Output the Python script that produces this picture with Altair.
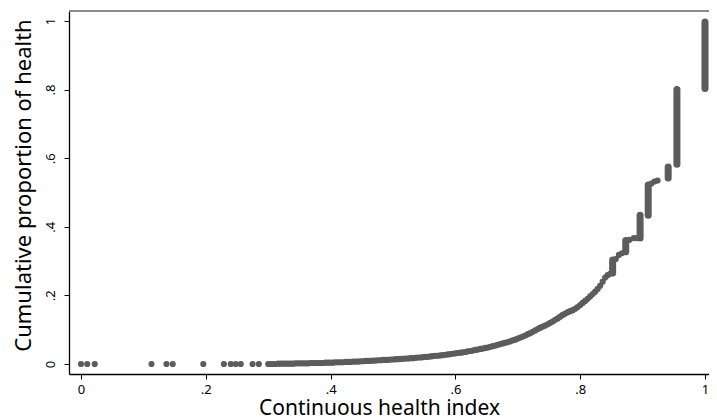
import altair as alt
import pandas as pd

# sparse points lying on y = 0
sparse_x = [0.0, 0.01, 0.022, 0.113, 0.137, 0.147, 0.196, 0.229, 0.240, 0.248, 0.256, 0.275, 0.285]
sparse_y = [0.0] * len(sparse_x)

# dense part of the curve
curve_x = [0.300, 0.304, 0.308, 0.312, 0.316, 0.320, 0.324, 0.328, 0.332, 0.336, 0.340, 0.344,
           0.348, 0.352, 0.356, 0.360, 0.364, 0.368, 0.372, 0.376, 0.380, 0.384, 0.388, 0.392,
           0.396, 0.400, 0.404, 0.408, 0.412, 0.416, 0.420, 0.424, 0.428, 0.432, 0.436, 0.440,
           0.444, 0.448, 0.452, 0.456, 0.460, 0.464, 0.468, 0.472, 0.476, 0.480, 0.484, 0.488,
           0.492, 0.496, 0.500, 0.504, 0.508, 0.512, 0.516, 0.520, 0.524, 0.528, 0.532, 0.536,
           0.540, 0.544, 0.548, 0.552, 0.556, 0.560, 0.564, 0.568, 0.572, 0.576, 0.580, 0.584,
           0.588, 0.592, 0.596, 0.600, 0.604, 0.608, 0.612, 0.616, 0.620, 0.624, 0.628, 0.632,
           0.636, 0.640, 0.644, 0.648, 0.652, 0.656, 0.660, 0.664, 0.668, 0.672, 0.676, 0.680,
           0.684, 0.688, 0.692, 0.696, 0.700, 0.704, 0.708, 0.712, 0.716, 0.720, 0.724, 0.728,
           0.732, 0.736, 0.740, 0.744, 0.748, 0.752, 0.756, 0.760, 0.764, 0.768, 0.772, 0.776,
           0.780, 0.784, 0.788, 0.792, 0.796, 0.800, 0.804, 0.808, 0.812, 0.816, 0.820, 0.824,
           0.828, 0.832, 0.836, 0.840, 0.844, 0.848,
           0.857, 0.862, 0.867, 0.879, 0.886, 0.891, 0.914, 0.919, 0.924]
curve_y = [0.000, 0.000, 0.000, 0.000, 0.001, 0.001, 0.001, 0.001, 0.001, 0.001, 0.001, 0.002,
           0.002, 0.002, 0.002, 0.002, 0.002, 0.003, 0.003, 0.003, 0.003, 0.003, 0.003, 0.004,
           0.004, 0.004, 0.004, 0.005, 0.005, 0.005, 0.005, 0.006, 0.006, 0.006, 0.007, 0.007,
           0.007, 0.008, 0.008, 0.009, 0.009, 0.009, 0.010, 0.010, 0.011, 0.011, 0.012, 0.012,
           0.012, 0.013, 0.013, 0.014, 0.014, 0.015, 0.015, 0.016, 0.016, 0.017, 0.017, 0.018,
           0.019, 0.019, 0.020, 0.021, 0.021, 0.022, 0.023, 0.024, 0.024, 0.025, 0.026, 0.027,
           0.028, 0.029, 0.030, 0.031, 0.032, 0.033, 0.034, 0.035, 0.037, 0.038, 0.039, 0.041,
           0.042, 0.044, 0.045, 0.047, 0.048, 0.050, 0.052, 0.054, 0.056, 0.058, 0.060, 0.062,
           0.064, 0.066, 0.069, 0.071, 0.074, 0.077, 0.080, 0.083, 0.087, 0.090, 0.094, 0.098,
           0.102, 0.106, 0.109, 0.112, 0.116, 0.120, 0.124, 0.129, 0.133, 0.138, 0.143, 0.147,
           0.151, 0.154, 0.157, 0.161, 0.166, 0.172, 0.178, 0.184, 0.190, 0.197, 0.204, 0.211,
           0.219, 0.228, 0.240, 0.252, 0.259, 0.263,
           0.306, 0.318, 0.323, 0.362, 0.367, 0.367, 0.526, 0.532, 0.535]

# runs of many observations sharing the same index value
run_x = [0.852, 0.873, 0.896, 0.909, 0.941, 0.955, 1.000]
run_lo = [0.265, 0.327, 0.367, 0.434, 0.542, 0.582, 0.803]
run_hi = [0.303, 0.360, 0.434, 0.522, 0.574, 0.800, 0.997]

x_ticks = [0, 0.2, 0.4, 0.6, 0.8, 1]
y_ticks = [0, 0.2, 0.4, 0.6, 0.8, 1]

pts = pd.DataFrame({"x": sparse_x + curve_x, "y": sparse_y + curve_y})
runs = pd.DataFrame({"x": run_x, "lo": run_lo, "hi": run_hi})

W, H = 640, 363
COL = "#5b5b60"
FONT = "Noto Sans"
lab = "datum.value == 0 ? '0' : datum.value == 1 ? '1' : replace(format(datum.value, '.1f'), '0.', '.')"

xs = alt.Scale(domain=[-0.01923, 1.00641], nice=False, zero=False)
ys = alt.Scale(domain=[-0.02916, 1.02915], nice=False, zero=False)

xax = alt.Axis(values=x_ticks, labelExpr=lab, title="Continuous health index", grid=False,
               domainColor="black", domainWidth=1.3, tickColor="black", tickSize=5, tickWidth=1,
               labelFont=FONT, labelFontSize=13, labelColor="black", labelPadding=4,
               labelBaseline="top", labelFlush=False,
               titleFont=FONT, titleFontSize=21, titleFontWeight="normal", titleColor="black",
               titleX=310, titleY=40, titleBaseline="alphabetic", titleAlign="center")
yax = alt.Axis(values=y_ticks, labelExpr=lab, title="Cumulative proportion of health", grid=False,
               domainColor="black", domainWidth=1.3, tickColor="black", tickSize=5, tickWidth=1,
               labelFont=FONT, labelFontSize=13, labelColor="black", labelPadding=10,
               labelAngle=270, labelAlign="center", labelBaseline="alphabetic", labelFlush=False,
               titleFont=FONT, titleFontSize=22, titleFontWeight="normal", titleColor="black",
               titleAngle=270, titleX=-39, titleY=174, titleBaseline="alphabetic", titleAlign="center")

points = alt.Chart(pts).mark_circle(size=38, color=COL, opacity=1).encode(
    x=alt.X("x:Q", scale=xs, axis=xax),
    y=alt.Y("y:Q", scale=ys, axis=yax),
)
bars = alt.Chart(runs).mark_rule(color=COL, strokeWidth=7, strokeCap="round").encode(
    x=alt.X("x:Q", scale=xs),
    y=alt.Y("lo:Q", scale=ys),
    y2="hi:Q",
)
top = alt.Chart(pts).mark_rule(color="#8c8c8c", strokeWidth=2).encode(
    x=alt.value(0), x2=alt.value(W), y=alt.value(0)
)

chart = alt.layer(top, bars, points).properties(
    width=W, height=H,
    autosize=alt.AutoSizeParams(type="none"),
    padding={"left": 61, "top": 3, "right": 0, "bottom": 43},
).configure_view(stroke=None).configure(background="white")

chart.save("out.html", embed_options={"renderer": "svg", "actions": False})
